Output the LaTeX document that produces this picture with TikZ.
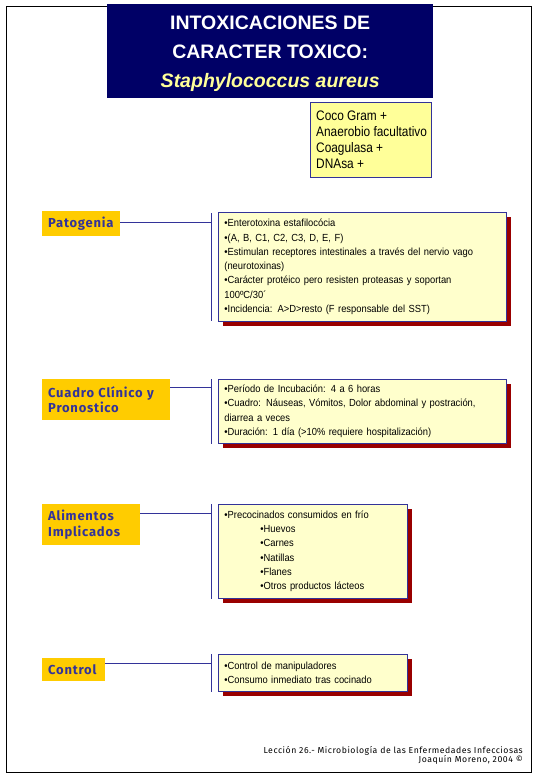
\documentclass[tikz,border=0pt]{standalone}
\usepackage{fontspec}
\setmainfont{Liberation Sans}
\newfontfamily\titlefont{Liberation Sans}
\newfontfamily\bodyfont[FakeStretch=0.91]{Liberation Sans}
\newfontfamily\infofont[FakeStretch=0.86]{Liberation Sans}
\newfontfamily\labelfont[LetterSpace=6]{Fira Sans}
\newfontfamily\footfont[LetterSpace=6]{Fira Sans}
\usetikzlibrary{shadows}
\definecolor{navy}{RGB}{0,0,102}
\definecolor{paleyellow}{RGB}{255,255,153}
\definecolor{cream}{RGB}{255,255,204}
\definecolor{gold}{RGB}{255,204,0}
\definecolor{labelblue}{RGB}{51,51,153}
\definecolor{shadowred}{RGB}{153,0,0}
\definecolor{linkblue}{RGB}{51,51,153}
\begin{document}
\begin{tikzpicture}[x=1pt,y=-1pt,
  labelbox/.style={fill=gold, anchor=north west, inner xsep=6pt, inner ysep=0pt,
    font=\labelfont\bfseries\fontsize{13}{15.5}\selectfont, text=labelblue, align=left},
  contentbox/.style={draw=linkblue, line width=0.8pt, fill=cream, anchor=north west,
    inner xsep=6pt, inner ysep=0pt, align=left,
    font=\bodyfont\fontsize{10.3}{14.3}\selectfont,
    drop shadow={shadow xshift=5pt, shadow yshift=-5pt, fill=shadowred, opacity=1}},
  link/.style={draw=linkblue, line width=0.8pt},
]
\useasboundingbox (0,0) rectangle (540,780);
% page frame
\draw[line width=1pt] (6,6) rectangle (531,772);

% title
\node[fill=navy, anchor=north west, minimum width=326pt, minimum height=94pt, inner sep=0pt] (title) at (107,4) {};
\node[align=center, text=white, inner sep=0pt, font=\titlefont\bfseries\fontsize{19.5}{29}\selectfont]
  (titletext) at ([yshift=-3pt]title.center)
  {INTOXICACIONES DE\\CARACTER TOXICO:\\{\color{paleyellow}\itshape Staphylococcus aureus}};

% info box
\node[draw=linkblue, line width=0.6pt, fill=paleyellow, anchor=north west, minimum width=121pt,
  minimum height=75pt, inner sep=0pt] (info) at (310,102) {};
\node[anchor=west, align=left, inner sep=0pt, font=\infofont\fontsize{13.8}{16}\selectfont]
  (infotext) at ([xshift=6pt]info.west)
  {Coco Gram +\\Anaerobio facultativo\\Coagulasa +\\DNAsa +};

% Patogenia
\node[labelbox, minimum width=78pt, minimum height=25pt, text width=66pt] (pat) at (42,211) {Patogenia};
\node[contentbox, minimum width=288pt, minimum height=109pt, text width=276pt] (patc) at (218,212)
  {•Enterotoxina estafilocócia\\
   •(A, B, C1, C2, C3, D, E, F)\\
   •Estimulan receptores intestinales a través del nervio vago\\
   (neurotoxinas)\\
   •Carácter protéico pero resisten proteasas y soportan\\
   100ºC/30´\\
   •Incidencia: A>D>resto (F responsable del SST)};
\coordinate (patT) at ([xshift=-7pt,yshift=-1pt]patc.north west);
\coordinate (patB) at ([xshift=-7pt,yshift=1pt]patc.south west);
\draw[link] (patT) -- (patB);
\draw[link] ([yshift=-11pt]pat.north east) -- ([yshift=-11pt]pat.north east -| patT);

% Cuadro clinico
\node[labelbox, minimum width=128pt, minimum height=41pt, text width=116pt] (cua) at (42,379) {Cuadro Clínico y\\Pronostico};
\node[contentbox, minimum width=288pt, minimum height=64pt, text width=276pt] (cuac) at (218,379)
  {•Período de Incubación: 4 a 6 horas\\
   •Cuadro: Náuseas, Vómitos, Dolor abdominal y postración,\\
   diarrea a veces\\
   •Duración: 1 día (>10\% requiere hospitalización)};
\coordinate (cuaT) at ([xshift=-7pt]cuac.north west);
\coordinate (cuaB) at ([xshift=-7pt]cuac.south west);
\draw[link] (cuaT) -- (cuaB);
\draw[link] ([yshift=-8pt]cua.north east) -- ([yshift=-8pt]cua.north east -| cuaT);

% Alimentos
\node[labelbox, minimum width=98pt, minimum height=41pt, text width=86pt] (ali) at (42,504) {Alimentos\\Implicados};
\node[contentbox, minimum width=189pt, minimum height=94pt, text width=177pt] (alic) at (218,504)
  {•Precocinados consumidos en frío\\
   \hspace*{36pt}•Huevos\\
   \hspace*{36pt}•Carnes\\
   \hspace*{36pt}•Natillas\\
   \hspace*{36pt}•Flanes\\
   \hspace*{36pt}•Otros productos lácteos};
\coordinate (aliT) at ([xshift=-7pt]alic.north west);
\coordinate (aliB) at ([xshift=-7pt]alic.south west);
\draw[link] (aliT) -- (aliB);
\draw[link] ([yshift=-9pt]ali.north east) -- ([yshift=-9pt]ali.north east -| aliT);

% Control
\node[labelbox, minimum width=63pt, minimum height=23pt, text width=51pt] (con) at (42,658) {Control};
\node[contentbox, minimum width=189pt, minimum height=37pt, text width=177pt] (conc) at (218,654)
  {•Control de manipuladores\\
   •Consumo inmediato tras cocinado};
\coordinate (conT) at ([xshift=-7pt]conc.north west);
\coordinate (conB) at ([xshift=-7pt]conc.south west);
\draw[link] (conT) -- (conB);
\draw[link] ([yshift=-5pt]con.north east) -- ([yshift=-5pt]con.north east -| conT);

% footer
\node[anchor=north east, align=right, inner sep=0pt,
  font=\footfont\fontsize{8.7}{9.5}\selectfont] (foot) at (523,746)
  {Lección 26.- Microbiología de las Enfermedades Infecciosas\\Joaquín Moreno, 2004 ©};
\end{tikzpicture}
\end{document}
